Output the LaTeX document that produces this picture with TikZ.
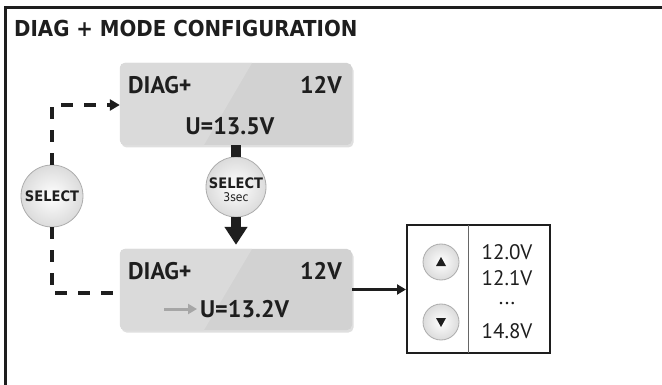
\documentclass[tikz,border=0pt]{standalone}
\usepackage{fontspec}
\setmainfont{PT Sans}
\newfontfamily\titlefont{DejaVu Sans Condensed}
\usetikzlibrary{arrows.meta,shadows,calc}
\definecolor{boxgray}{HTML}{D2D2D2}
\definecolor{boxlight}{HTML}{DADADA}
\definecolor{ink}{HTML}{1E1E1E}
\tikzset{
  lcdbox/.style={rectangle, rounded corners=5pt, fill=boxgray, minimum width=232pt,
    drop shadow={shadow xshift=1.5pt, shadow yshift=-2.5pt, opacity=0.25}},
  btn/.style={circle, draw=gray!65, line width=0.8pt, shading=radial,
    inner color=white, outer color=gray!28, inner sep=0pt},
  lcdtext/.style={font=\bfseries\fontsize{24}{26}\selectfont, text=ink, inner sep=0pt},
  listtext/.style={font=\fontsize{21}{23}\selectfont, text=ink, inner sep=0pt},
  seltext/.style={font=\titlefont\bfseries\fontsize{14.5}{16}\selectfont, text=ink, inner sep=0pt},
  dashline/.style={line width=3.2pt, ink, dash pattern=on 12pt off 11pt},
}
\begin{document}
\begin{tikzpicture}[x=1pt,y=-1pt]
\useasboundingbox (0,0) rectangle (662,385);
% frame
\draw[line width=2.5pt, ink] (5.5,385) -- (5.5,7.5) -- (662,7.5);
\node[anchor=west, inner sep=0pt, text=ink, font=\titlefont\bfseries\fontsize{22}{24}\selectfont] (title) at (14,28.5) {DIAG + MODE CONFIGURATION};

% boxes
\node[lcdbox, minimum height=82pt] (top) at (236,104) {};
\node[lcdbox, minimum height=81pt] (bot) at (236,289.5) {};
\begin{scope}
  \clip[rounded corners=5pt] (top.north west) rectangle (top.south east);
  \fill[boxlight] (top.north west) -- (252,63) -- (204,145) -- (top.south west) -- cycle;
\end{scope}
\begin{scope}
  \clip[rounded corners=5pt] (bot.north west) rectangle (bot.south east);
  \fill[boxlight] (bot.north west) -- (252,249) -- (204,330) -- (bot.south west) -- cycle;
\end{scope}

\node[lcdtext, anchor=west] (d1) at (128,85) {DIAG+};
\node[lcdtext, anchor=east] (v1) at (342,85) {12V};
\node[lcdtext] (u1) at (230,126) {U=13.5V};
\node[lcdtext, anchor=west] (d2) at (128,271) {DIAG+};
\node[lcdtext, anchor=east] (v2) at (342,271) {12V};
\node[lcdtext, anchor=west] (u2) at (200,309) {U=13.2V};
\draw[line width=3pt, gray!70, -{Triangle[width=10pt,length=9pt]}] ($(u2.west)+(-36,0)$) -- ($(u2.west)+(-3,0)$);

% select buttons
\node[btn, minimum size=62pt] (sel1) at (52,196) {};
\node[seltext] (sel1t) at (sel1.center) {SELECT};
\node[btn, minimum size=60pt] (sel2) at (236,187) {};
\node[seltext] (sel2t) at (236,183) {SELECT};
\node[font=\titlefont\fontsize{12}{13}\selectfont, text=ink, inner sep=0pt] (sel2s) at (236,197.5) {3sec};

% thick connectors
\draw[line width=10pt, ink] (top.south) -- (sel2.north);
\draw[line width=10pt, ink, -{Triangle[width=22pt,length=18pt]}, shorten >=4pt] (sel2.south) -- (bot.north);

% dashed connectors
\draw[dashline, -{Triangle[width=11pt,length=10pt]}] (sel1.north) |- ([yshift=-1pt]top.west);
\draw[dashline] (sel1.south) |- ([yshift=-3.5pt]bot.west);

% list box
\node[draw=ink, line width=2pt, rectangle, minimum width=143pt, minimum height=128pt, inner sep=0pt, fill=white] (list) at (478.5,289) {};
\draw[line width=1pt, gray!80!black] (468,225) -- (468,353);
\draw[line width=2.8pt, ink, -{Triangle[width=10pt,length=9pt]}] (bot.east) -- (list.west |- bot.east);

\node[btn, minimum size=36pt] (up) at (441,262) {};
\node[btn, minimum size=36pt] (down) at (441,322) {};
\fill[ink] ([shift={(-5,4)}]up.center) -- ([shift={(5,4)}]up.center) -- ([shift={(0,-5)}]up.center) -- cycle;
\fill[ink] ([shift={(-5,-4)}]down.center) -- ([shift={(5,-4)}]down.center) -- ([shift={(0,5)}]down.center) -- cycle;

\node[listtext] (l1) at (507,252) {12.0V};
\node[listtext] (l2) at (507,278) {12.1V};
\node[listtext] (l3) at (507,304) {...};
\node[listtext] (l4) at (507,331) {14.8V};
\end{tikzpicture}
\end{document}
